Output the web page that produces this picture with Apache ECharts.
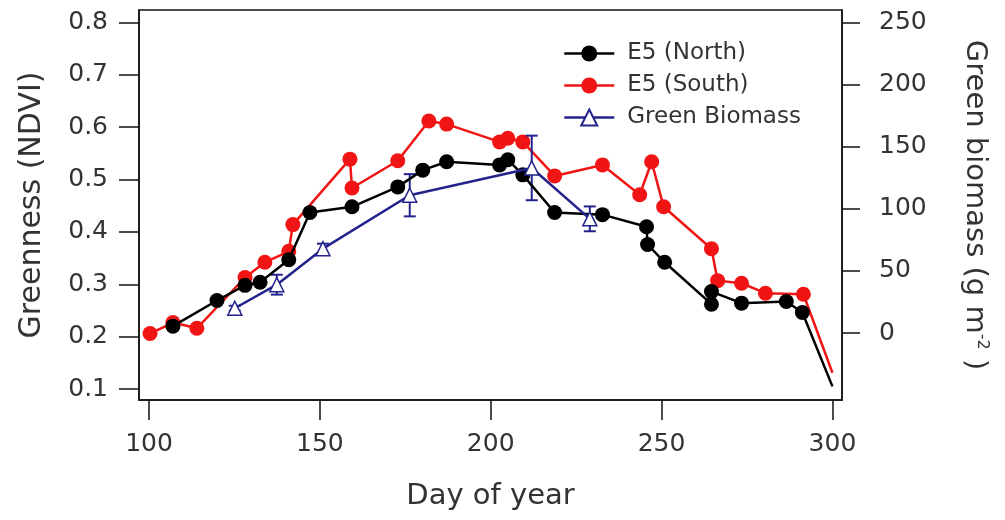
<!DOCTYPE html>
<html>
<head>
<meta charset="utf-8">
<script src="https://cdn.jsdelivr.net/npm/echarts@6/dist/echarts.min.js"></script>
<style>
  html, body { margin: 0; padding: 0; background: #fff; }
  #main { width: 1005px; height: 520px; }
</style>
</head>
<body>
<div id="main"></div>
<script>
// E5 (North) greenness
var northDay = [107.0, 119.9, 128.1, 132.5, 140.9, 147.1, 159.4, 172.8, 180.1, 187.1, 202.6, 205.0, 209.4, 218.7, 232.7, 245.6, 245.9, 250.9, 264.6, 264.6, 273.4, 286.5, 291.2, 300];
var northNdvi = [0.220, 0.269, 0.298, 0.304, 0.347, 0.437, 0.448, 0.486, 0.518, 0.534, 0.528, 0.538, 0.509, 0.437, 0.433, 0.410, 0.376, 0.342, 0.262, 0.286, 0.264, 0.267, 0.246, 0.105];

// E5 (South) greenness
var southDay = [100.3, 107.0, 114.0, 128.1, 133.9, 140.9, 142.1, 158.8, 159.4, 172.8, 181.9, 187.1, 202.6, 205.0, 209.4, 218.7, 232.7, 243.6, 247.1, 250.6, 264.6, 266.4, 273.4, 280.4, 291.5, 300];
var southNdvi = [0.206, 0.227, 0.216, 0.313, 0.342, 0.363, 0.414, 0.539, 0.484, 0.536, 0.612, 0.606, 0.572, 0.579, 0.572, 0.507, 0.528, 0.471, 0.534, 0.448, 0.368, 0.307, 0.302, 0.283, 0.281, 0.131];

// green biomass (g m-2) with error
var bioDay = [125.1, 137.4, 150.9, 176.3, 212.0, 229.0];
var bioMass = [20, 39, 68, 111, 133, 92];
var bioErr = [2, 8, 4, 17, 26, 10];

// tick labels
var dayTicks = [100, 150, 200, 250, 300];
var ndviTicks = [0.1, 0.2, 0.3, 0.4, 0.5, 0.6, 0.7, 0.8];
var bioTicks = [0, 50, 100, 150, 200, 250];

var FONT = 'DejaVu Sans';
var TXT = '#333';
var NAVY = '#23238c';

// last point of each NDVI line has no marker
var pts = function (xs, ys) {
    return xs.map(function (x, i) {
        if (i === xs.length - 1) return { value: [x, ys[i]], symbol: 'none' };
        return [x, ys[i]];
    });
};

var chart = echarts.init(document.getElementById('main'));
chart.setOption({
    animation: false,
    backgroundColor: '#fff',
    grid: { left: 139, right: 163, top: 10, bottom: 120, show: true, borderColor: '#111', borderWidth: 1.5, backgroundColor: 'transparent' },
    legend: {
        data: ['E5 (North)', 'E5 (South)', 'Green Biomass'],
        orient: 'vertical',
        left: 558, top: 37,
        itemWidth: 50, itemHeight: 20, itemGap: 9,
        lineStyle: { width: 2.5 },
        textStyle: { fontFamily: FONT, fontSize: 23, color: TXT, lineHeight: 23, padding: [0, 0, 0, 8] }
    },
    xAxis: {
        type: 'value', min: 97.07, max: 302.8,
        name: 'Day of year', nameLocation: 'middle', nameGap: 82,
        nameTextStyle: { fontFamily: FONT, fontSize: 29, color: TXT },
        axisLine: { show: true, onZero: false, lineStyle: { color: '#111', width: 1.5 } },
        axisTick: { show: true, customValues: dayTicks, length: 20, lineStyle: { color: '#111', width: 1.5 } },
        axisLabel: { customValues: dayTicks, margin: 32, fontFamily: FONT, fontSize: 25, color: TXT },
        splitLine: { show: false }
    },
    yAxis: [{
        type: 'value', min: 0.079, max: 0.8239,
        name: 'Greenness (NDVI)', nameLocation: 'middle', nameGap: 92,
        nameTextStyle: { fontFamily: FONT, fontSize: 30, color: TXT },
        axisLine: { show: true, onZero: false, lineStyle: { color: '#111', width: 1.5 } },
        axisTick: { show: true, customValues: ndviTicks, length: 20, lineStyle: { color: '#111', width: 1.5 } },
        axisLabel: { customValues: ndviTicks, margin: 31, fontFamily: FONT, fontSize: 25, color: TXT,
            formatter: function (v) { return v.toFixed(1); } },
        splitLine: { show: false }
    }, {
        type: 'value', position: 'right', min: -53.9, max: 260.2,
        name: 'Green biomass (g m{sup|-2}{n| )}', nameLocation: 'middle', nameGap: 118, nameRotate: -90,
        nameTextStyle: { fontFamily: FONT, fontSize: 29, color: TXT,
            rich: {
                sup: { fontFamily: FONT, fontSize: 16, color: TXT, verticalAlign: 'top', padding: [0, 0, 14, 0] },
                n: { fontFamily: FONT, fontSize: 29, color: TXT }
            } },
        axisLine: { show: true, onZero: false, lineStyle: { color: '#111', width: 1.5 } },
        axisTick: { show: true, customValues: bioTicks, length: 18, lineStyle: { color: '#111', width: 1.5 } },
        axisLabel: { customValues: bioTicks, margin: 37, fontFamily: FONT, fontSize: 25, color: TXT },
        splitLine: { show: false }
    }],
    series: [{
        name: 'E5 (North)', type: 'line', data: pts(northDay, northNdvi),
        symbol: 'circle', symbolSize: 15, z: 4,
        itemStyle: { color: '#000' }, lineStyle: { color: '#000', width: 2.5 }
    }, {
        name: 'E5 (South)', type: 'line', data: pts(southDay, southNdvi),
        symbol: 'circle', symbolSize: 15, z: 3,
        itemStyle: { color: '#f01414' }, lineStyle: { color: '#f01414', width: 2.5 }
    }, {
        name: 'Green Biomass', type: 'line', yAxisIndex: 1,
        data: bioDay.map(function (d, i) { return [d, bioMass[i]]; }),
        symbol: 'triangle', symbolSize: 14, z: 5,
        itemStyle: { color: '#fff', borderColor: NAVY, borderWidth: 1.5 },
        lineStyle: { color: NAVY, width: 2.5 }
    }, {
        name: 'err', type: 'custom', yAxisIndex: 1, z: 4,
        data: bioDay.map(function (d, i) { return [d, bioMass[i], bioErr[i]]; }),
        encode: { x: 0, y: 1 },
        renderItem: function (params, api) {
            var x = api.value(0), y = api.value(1), e = api.value(2);
            var top = api.coord([x, y + e]);
            var bot = api.coord([x, y - e]);
            var hw = 6;
            var st = { stroke: NAVY, lineWidth: 2 };
            return { type: 'group', children: [
                { type: 'line', shape: { x1: top[0], y1: top[1], x2: bot[0], y2: bot[1] }, style: st },
                { type: 'line', shape: { x1: top[0] - hw, y1: top[1], x2: top[0] + hw, y2: top[1] }, style: st },
                { type: 'line', shape: { x1: bot[0] - hw, y1: bot[1], x2: bot[0] + hw, y2: bot[1] }, style: st }
            ] };
        }
    }]
});
</script>
</body>
</html>
